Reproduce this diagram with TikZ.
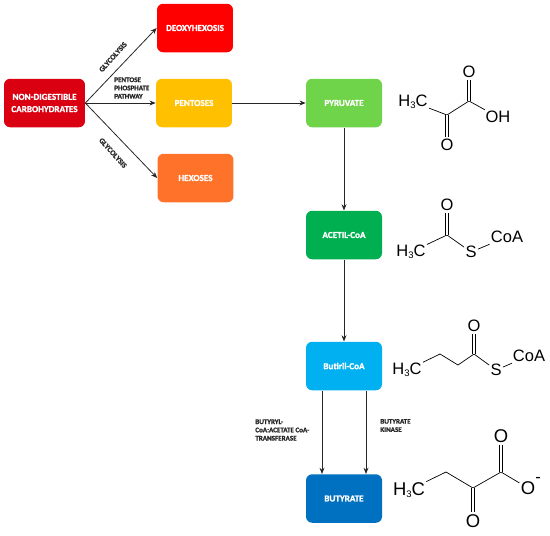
\documentclass[tikz,border=0pt]{standalone}
\usepackage{fontspec}
\setmainfont[BoldFeatures={FakeBold=1.2}]{Carlito}
\newfontfamily\chemfont{Liberation Sans}
\usetikzlibrary{arrows.meta}
\newcommand{\methyl}{H\raisebox{-1.4pt}{\fontsize{5.4}{6}\selectfont 3}C}
\tikzset{
  stepbox/.style={rounded corners=3.5pt,minimum width=1.52cm,minimum height=0.97cm,inner sep=0pt,
    align=center,text=white,font=\fontsize{5.2}{7}\selectfont\bfseries},
  arrowline/.style={-{Stealth[length=3.5pt,width=2.8pt]},line width=0.45pt,black!85},
  smalllabel/.style={inner sep=0pt,align=left,text=black!85,font=\fontsize{4}{4.7}\selectfont\bfseries},
  glylabel/.style={smalllabel,font=\fontsize{4.3}{5}\selectfont\bfseries\addfontfeature{Kerning=Off}},
  atom/.style={inner sep=0.6pt,font=\chemfont\fontsize{9.4}{10}\selectfont},
  bigatom/.style={inner sep=0.6pt,font=\chemfont\fontsize{10.5}{11}\selectfont},
  bond/.style={line width=0.4pt,black},
  dbond/.style={line width=0.35pt,black,double,double distance=1.3pt,shorten >=0.5pt}
}
\definecolor{ndcred}{HTML}{DB0011}
\definecolor{deoxyred}{HTML}{FF0000}
\definecolor{pentyellow}{HTML}{FFC000}
\definecolor{hexorange}{HTML}{FF7229}
\definecolor{pyrgreen}{HTML}{70D44A}
\definecolor{acetgreen}{HTML}{00B050}
\definecolor{butcyan}{HTML}{00B0F0}
\definecolor{butblue}{HTML}{0070C0}
\begin{document}
\begin{tikzpicture}[x=0.02cm,y=-0.02cm]
  \useasboundingbox (0,0) rectangle (550,535);
  % boxes
  \node[stepbox,fill=ndcred,minimum width=1.62cm] (ndc) at (44.5,103) {NON-DIGESTIBLE\\CARBOHYDRATES};
  \node[stepbox,fill=deoxyred] (deoxy) at (195,28) {DEOXYHEXOSIS};
  \node[stepbox,fill=pentyellow] (pent) at (194,103) {PENTOSES};
  \node[stepbox,fill=hexorange] (hex) at (195.5,178) {HEXOSES};
  \node[stepbox,fill=pyrgreen] (pyr) at (344,103) {PYRUVATE};
  \node[stepbox,fill=acetgreen] (acet) at (344,235) {ACETIL-CoA};
  \node[stepbox,fill=butcyan] (butcoa) at (344,366) {Butiril-CoA};
  \node[stepbox,fill=butblue] (but) at (344,498.5) {BUTYRATE};
  % arrows
  \draw[arrowline] (ndc.east) -- (deoxy.west);
  \draw[arrowline] (ndc.east) -- (pent.west);
  \draw[arrowline] (ndc.east) -- (hex.west);
  \draw[arrowline] (pent) -- (pyr);
  \draw[arrowline] (pyr) -- (acet);
  \draw[arrowline] (acet) -- (butcoa);
  \draw[arrowline] (butcoa.south -| 322,0) -- (but.north -| 322,0);
  \draw[arrowline] (butcoa.south -| 366,0) -- (but.north -| 366,0);
  % enzyme labels
  \node[glylabel,rotate=48] (gly1) at (113,57) {GLYCOLYSIS};
  \node[glylabel,rotate=-48] (gly2) at (113,153) {GLYCOLYSIS};
  \node[smalllabel,anchor=west] (ppp) at (114,88) {PENTOSE\\PHOSPHATE\\PATHWAY};
  \node[smalllabel,anchor=west] (cat) at (255,430) {BUTYRYL-\\CoA:ACETATE CoA-\\TRANSFERASE};
  \node[smalllabel,anchor=west] (kin) at (380,425.5) {BUTYRATE\\KINASE};
  % pyruvate
  \node[atom] (a1) at (413,102) {\methyl};
  \coordinate (a2) at (447,115);
  \coordinate (a3) at (469,101);
  \node[atom] (a4) at (469,72) {O};
  \node[atom] (a5) at (447,145) {O};
  \node[atom] (a6) at (498,117) {OH};
  \draw[bond] (a1) -- (a2) -- (a3) -- (a6);
  \draw[dbond] (a3) -- (a4);
  \draw[dbond] (a2) -- (a5);
  % acetyl
  \node[atom] (b1) at (411,252) {\methyl};
  \coordinate (b2) at (447,235);
  \node[atom] (b3) at (447,205) {O};
  \node[atom] (b4) at (471,252) {S};
  \node[atom] (b5) at (507,237) {CoA};
  \draw[bond] (b1) -- (b2) -- (b4) -- (b5);
  \draw[dbond] (b2) -- (b3);
  % butyryl
  \node[atom] (c1) at (407,370) {\methyl};
  \coordinate (c3) at (440,354);
  \coordinate (c4) at (458,365);
  \coordinate (c5) at (474,354);
  \node[atom] (c6) at (474,326) {O};
  \node[atom] (c7) at (496,370) {S};
  \node[atom] (c8) at (529,356) {CoA};
  \draw[bond] (c1) -- (c3) -- (c4) -- (c5) -- (c7) -- (c8);
  \draw[dbond] (c5) -- (c6);
  % butyrate
  \node[bigatom] (d1) at (409,490) {\methyl};
  \coordinate (d2) at (446,472);
  \coordinate (d3) at (473,488);
  \coordinate (d4) at (501,472);
  \node[bigatom] (d5) at (501,436) {O};
  \node[bigatom] (d6) at (528,488) {O};
  \node[bigatom] (d7) at (473,521) {O};
  \node[atom,anchor=west,inner sep=0pt] (d8) at (535,480) {-};
  \draw[bond] (d1) -- (d2) -- (d3) -- (d4) -- (d6);
  \draw[dbond] (d4) -- (d5);
  \draw[dbond] (d3) -- (d7);
\end{tikzpicture}
\end{document}
